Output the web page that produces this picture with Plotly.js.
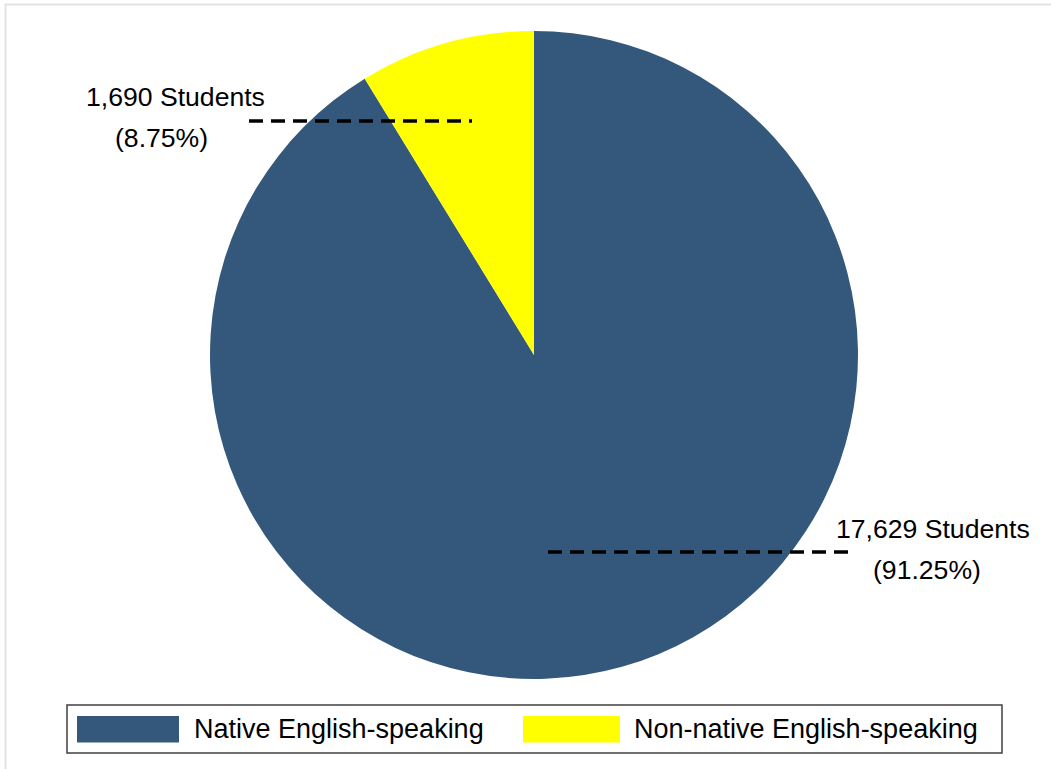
<!DOCTYPE html>
<html>
<head>
<meta charset="utf-8">
<script src="https://cdn.plot.ly/plotly-3.0.1.min.js"></script>
<style>
  html, body { margin: 0; padding: 0; background: #ffffff; }
  #chart { width: 1051px; height: 769px; }
</style>
</head>
<body>
<div id="chart"></div>
<script>
// ---- data ----
var categories = ["Native English-speaking", "Non-native English-speaking"];
var students = [17629, 1690];
var sliceColors = ["#34587b", "#ffff00"];

// ---- layout constants (pixels) ----
var W = 1051, H = 769;
var M = { l: 210, r: 193, t: 31, b: 90 };
var PW = W - M.l - M.r, PH = H - M.t - M.b;
function px(x) { return (x - M.l) / PW; }
function py(y) { return 1 - (y - M.t) / PH; }

var total = students.reduce(function (a, b) { return a + b; }, 0);
function countText(v) { return v.toLocaleString("en-US") + " Students"; }
function pctText(v) { return "(" + (v / total * 100).toFixed(2) + "%)"; }

var labelFont = { family: "Liberation Sans, Arial, sans-serif", size: 26.6, color: "#000000" };
var legendFont = { family: "Liberation Sans, Arial, sans-serif", size: 27, color: "#000000" };

// label placement (pixels), one entry per category
var labelPos = [
  { line: [548, 552, 850, 552], t1: [834, 529], t2: [871, 570] },
  { line: [249, 121, 472, 121], t1: [84, 97], t2: [113, 138] }
];

var shapes = [];
var annotations = [];

// outer frame
shapes.push({ type: "rect", xref: "paper", yref: "paper",
  x0: px(5.5), x1: px(1070), y0: py(4.5), y1: py(790),
  line: { color: "#e3e3e3", width: 2 }, fillcolor: "rgba(0,0,0,0)", layer: "below" });

labelPos.forEach(function (p, i) {
  shapes.push({ type: "line", xref: "paper", yref: "paper",
    x0: px(p.line[0]), y0: py(p.line[1]), x1: px(p.line[2]), y1: py(p.line[3]),
    line: { color: "#000000", width: 3.3, dash: "14px,8px" } });
  annotations.push({ xref: "paper", yref: "paper", x: px(p.t1[0]), y: py(p.t1[1]),
    xanchor: "left", yanchor: "middle", showarrow: false,
    text: countText(students[i]), font: labelFont });
  annotations.push({ xref: "paper", yref: "paper", x: px(p.t2[0]), y: py(p.t2[1]),
    xanchor: "left", yanchor: "middle", showarrow: false,
    text: pctText(students[i]), font: labelFont });
});

// legend box
shapes.push({ type: "rect", xref: "paper", yref: "paper",
  x0: px(67), x1: px(1002), y0: py(705), y1: py(753),
  line: { color: "#404040", width: 1.5 }, fillcolor: "#ffffff" });
var legendItems = [
  { sw: [77, 179], tx: 192 },
  { sw: [523, 620], tx: 632 }
];
legendItems.forEach(function (it, i) {
  shapes.push({ type: "rect", xref: "paper", yref: "paper",
    x0: px(it.sw[0]), x1: px(it.sw[1]), y0: py(716), y1: py(742.5),
    line: { width: 0 }, fillcolor: sliceColors[i] });
  annotations.push({ xref: "paper", yref: "paper", x: px(it.tx), y: py(729),
    xanchor: "left", yanchor: "middle", showarrow: false,
    text: categories[i], font: legendFont });
});

var trace = {
  type: "pie",
  labels: categories,
  values: students,
  sort: false,
  direction: "clockwise",
  rotation: 0,
  textinfo: "none",
  hoverinfo: "label+value+percent",
  marker: { colors: sliceColors, line: { width: 0 } },
  domain: { x: [0, 1], y: [0, 1] },
  showlegend: false
};

var layout = {
  width: W, height: H,
  margin: M,
  paper_bgcolor: "#ffffff",
  plot_bgcolor: "#ffffff",
  showlegend: false,
  shapes: shapes,
  annotations: annotations
};

Plotly.newPlot("chart", [trace], layout, { displayModeBar: false, staticPlot: true });
</script>
</body>
</html>
